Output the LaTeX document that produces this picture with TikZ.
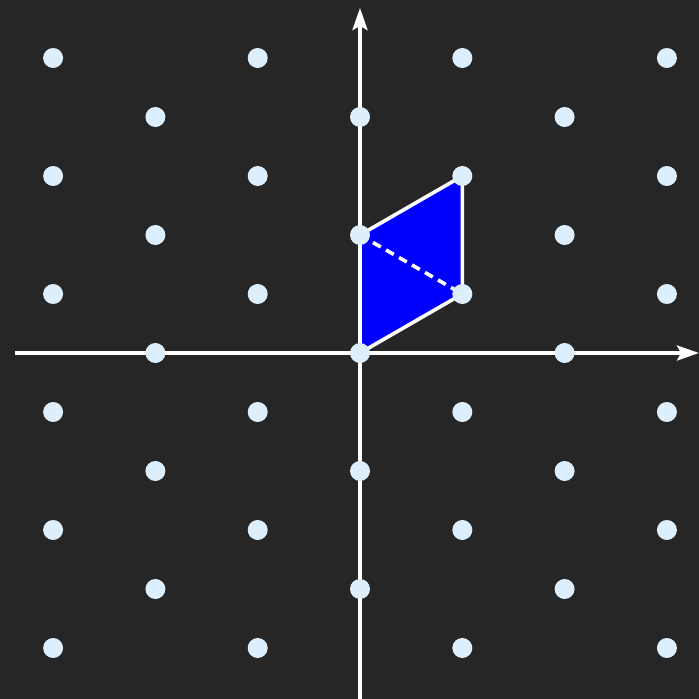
\documentclass[tikz,border=0pt]{standalone}
\usetikzlibrary{arrows.meta}
\definecolor{bgc}{HTML}{262626}
\definecolor{dotc}{HTML}{DDEEFC}
\definecolor{cellc}{HTML}{0000FF}
\pgfdeclarelayer{bg}
\pgfsetlayers{bg,main}
\tikzset{
  dot/.style={circle,fill=dotc,draw=none,minimum size=20pt,inner sep=0pt},
  axis/.style={white,line width=3.6pt,-{Stealth[length=22pt,width=15pt,inset=4pt]}},
  cell/.style={fill=cellc,draw=white,line width=3.6pt,line join=round},
  diag/.style={white,line width=3.6pt,dash pattern=on 9pt off 6pt}
}
\begin{document}
\begin{tikzpicture}[x=1pt,y=1pt]
\useasboundingbox (0,0) rectangle (699,699);
\foreach \k in {-3,...,3}{
  \foreach \n in {-5,...,5}{
    \pgfmathtruncatemacro\pp{mod(\k+\n+20,2)}
    \ifnum\pp=0
      \node[dot] (d\k\n) at ({360+102.3*\k},{346+59*\n}) {};
    \fi
  }
}
\coordinate (xs) at (15,346);
\coordinate (xe) at (699,346);
\coordinate (ys) at (360,0);
\coordinate (ye) at (360,691);
\begin{pgfonlayer}{bg}
\fill[bgc] (0,0) rectangle (699,699);
\draw[axis] (xs) -- (xe);
\draw[axis] (ys) -- (ye);
\draw[cell] (d00.center) -- (d11.center) -- (d13.center) -- (d02.center) -- cycle;
\draw[diag] (d02.center) -- (d11.center);
\end{pgfonlayer}
\end{tikzpicture}
\end{document}
